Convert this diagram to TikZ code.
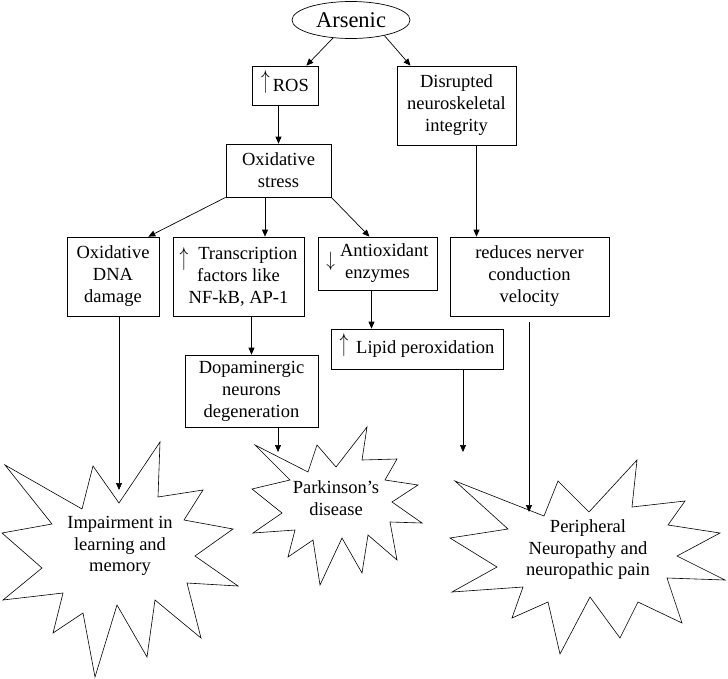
\documentclass[tikz,border=0pt]{standalone}
\usepackage{fontspec}
\setmainfont{Liberation Serif}
\usetikzlibrary{shapes,arrows.meta,positioning}

\newcommand{\upmark}[1]{\smash{\raisebox{#1}{\scalebox{1}[1.5]{$\uparrow$}}}}
\newcommand{\downmark}[1]{\smash{\raisebox{#1}{\scalebox{1}[1.2]{$\downarrow$}}}}

\tikzset{
    box/.style={draw, line width=0.7pt, align=center, inner sep=2pt, font=\fontsize{18.5}{22}\selectfont},
    burst/.style={draw, line width=0.6pt, line join=miter},
    bursttext/.style={align=center, inner sep=0pt, font=\fontsize{18.5}{21.5}\selectfont},
}

\begin{document}
\begin{tikzpicture}[x=1pt, y=-1pt, >={Triangle[length=7pt,width=6pt]}, line width=0.7pt]
        \useasboundingbox (0,0) rectangle (728,678);

        \node[ellipse, draw, minimum width=118pt, minimum height=37pt, inner sep=1pt, font=\fontsize{22.5}{26}\selectfont] (ars) at (351,20) {Arsenic};
        \node[box, minimum width=66pt, minimum height=39pt] (ros) at (285,85.5) {\upmark{3.5pt}\hspace{3pt}ROS};
        \node[box, minimum width=119pt, minimum height=79pt] (dis) at (456.5,105.5) {Disrupted\\neuroskeletal\\integrity};
        \node[box, minimum width=105pt, minimum height=53pt] (oxs) at (278.5,170.5) {Oxidative\\stress};
        \node[box, minimum width=92pt, minimum height=79pt] (dna) at (113,276.5) {Oxidative\\DNA\\damage};
        \node[box, minimum width=131pt, minimum height=79pt] (tf) at (238.5,276.5) {\upmark{-6pt}\hspace{10pt}Transcription\\factors like\\NF-kB, AP-1};
        \node[box, minimum width=119pt, minimum height=53pt] (aox) at (377.5,263.5) {\downmark{-10pt}\hspace{5pt}Antioxidant\\enzymes};
        \node[box, minimum width=159pt, minimum height=79pt] (red) at (529.5,276.5) {reduces nerver\\conduction\\velocity};
        \node[box, minimum width=172pt, minimum height=40pt] (lip) at (417,349) {\upmark{2pt}\hspace{8pt}Lipid peroxidation};
        \node[box, minimum width=133pt, minimum height=72pt] (dopa) at (251.5,391) {Dopaminergic\\neurons\\degeneration};

        \draw[burst] (5,465) -- (82,509) -- (93,466) -- (119,503) -- (160,442) -- (158,497) -- (203,490) -- (184,520)
            -- (233,529) -- (195,556) -- (238,586) -- (187,583) -- (201,638) -- (155,600) -- (147,657) -- (117,605)
            -- (95,677) -- (83,613) -- (53,633) -- (63,593) -- (3,600) -- (42,568) -- (2,533) -- (52,524) -- cycle;
        \draw[burst] (255,445) -- (308,472) -- (317,445) -- (336,467) -- (367,427) -- (362,460) -- (397,459) -- (385,480)
            -- (418,485) -- (392,502) -- (422,523) -- (390,522) -- (397,560) -- (368,535) -- (362,573) -- (342,538)
            -- (320,585) -- (313,540) -- (288,557) -- (295,530) -- (253,533) -- (282,513) -- (252,489) -- (290,480) -- cycle;
        \draw[burst] (455,481) -- (544,516) -- (558,481) -- (589,512) -- (637,460) -- (632,507) -- (685,501) -- (668,525)
            -- (720,533) -- (677,556) -- (725,580) -- (667,578) -- (682,623) -- (638,602) -- (620,638) -- (590,597)
            -- (560,654) -- (548,602) -- (512,618) -- (523,587) -- (452,592) -- (497,567) -- (450,538) -- (508,529) -- cycle;

        \node[bursttext] (imp) at (120,546) {Impairment in\\learning and\\memory};
        \node[bursttext] (park) at (336,498) {Parkinson's\\disease};
        \node[bursttext] (per) at (588,550) {Peripheral\\Neuropathy and\\neuropathic pain};

        \coordinate (impin) at (119,490);
        \coordinate (parkin) at (278,452);
        \coordinate (lipend) at (463,452);
        \coordinate (perin) at (529,512);

        \draw[->] (ars.-135) -- ([xshift=-12pt]ros.north east);
        \draw[->] (ars.-25) -- ([xshift=-46pt]dis.north);
        \draw[->] (ros.south -| oxs.north) -- (oxs.north);
        \draw[->] (oxs.south west) -- ([xshift=-11pt]dna.north east);
        \draw[->] ([xshift=-13.5pt]oxs.south) -- ([xshift=-13.5pt]oxs.south |- tf.north);
        \draw[->] (oxs.south east) -- ([xshift=-8pt]aox.north);
        \draw[->] ([xshift=20pt]dis.south) -- ([xshift=20pt]dis.south |- red.north);
        \draw[->] (dna.south -| impin) -- (impin);
        \draw[->] (tf.south -| dopa.north) -- (dopa.north);
        \draw[->] (dopa.south -| parkin) -- (parkin);
        \draw[->] ([xshift=-6pt]aox.south) -- ([xshift=-6pt]aox.south |- lip.north);
        \draw[->] (lip.south -| lipend) -- (lipend);
        \draw[->] ([yshift=-6pt]red.south -| perin) -- (perin);
\end{tikzpicture}
\end{document}
